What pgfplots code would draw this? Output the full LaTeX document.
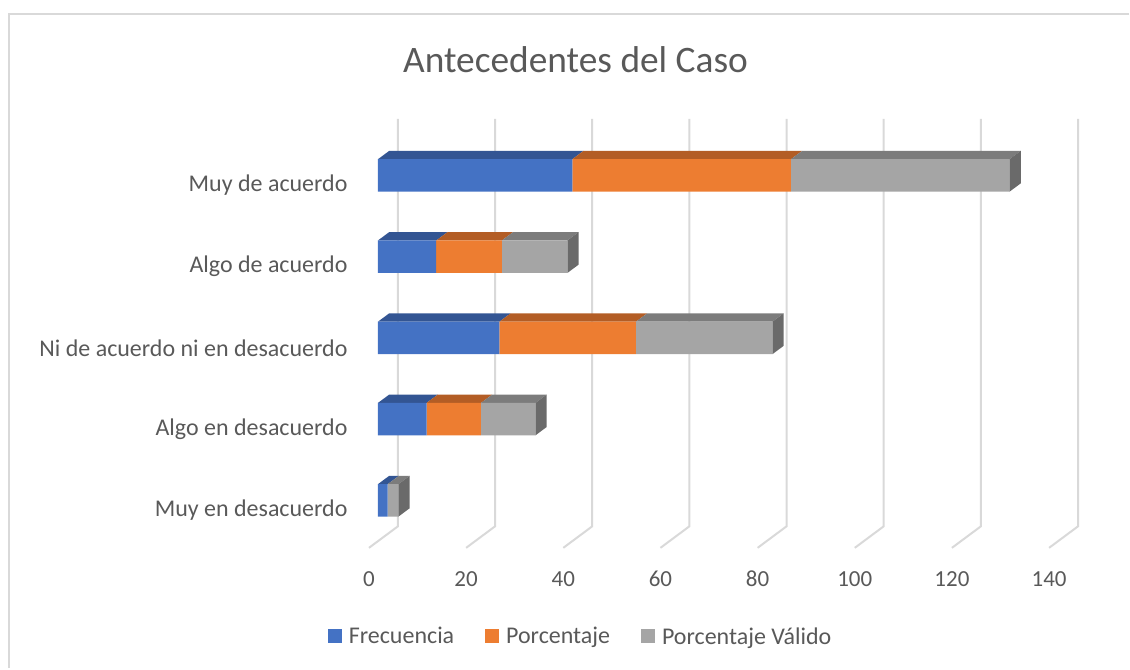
\documentclass[border=0pt]{standalone}
\usepackage{pgfplots}
\usepackage{pgfplotstable}
\usepackage{fontspec}
\setmainfont{Carlito}
\pgfplotsset{compat=1.18}

\definecolor{txt}{HTML}{595959}
\definecolor{rule}{HTML}{D9D9D9}
\definecolor{blue1}{HTML}{4472C4}
\definecolor{orange1}{HTML}{ED7D31}
\definecolor{grey1}{HTML}{A5A5A5}
\definecolor{bluetop}{HTML}{335593}
\definecolor{orangetop}{HTML}{B35D25}
\definecolor{greytop}{HTML}{7C7C7C}
\definecolor{greyside}{HTML}{6A6A6A}

% idx 0 is the bottom category
\pgfplotstableread{
idx freq pct valid
0   2    0    2.2
1   10   11.2 11.2
2   25   28.1 28.1
3   12   13.5 13.5
4   40   45   45
}\casedata

\pgfplotsset{
  frame/.style={
    scale only axis, width=709.7pt, height=429.3pt,
    xmin=-1.85, xmax=144.11, ymin=-0.584, ymax=4.696,
    clip=false,
  },
  gridline/.style={rule, line width=2pt, forget plot, no marks, sharp plot},
  face/.style={fill=#1, draw=none, forget plot, no marks, sharp plot},
  swatch/.style={
    fill=#1, draw=none,
    legend image code/.code={\fill[fill=#1,draw=none] (0pt,-7pt) rectangle (14pt,7pt); \path (19pt,0pt);},
  },
}

\begin{document}
\begin{tikzpicture}
\begin{axis}[
  frame,
  axis line style={draw=none},
  major tick length=0pt,
  xtick={0,20,...,140},
  ytick={0,1,2,3,4},
  yticklabels={Muy en desacuerdo,Algo en desacuerdo,Ni de acuerdo ni en desacuerdo,Algo de acuerdo,Muy de acuerdo},
  /pgf/number format/assume math mode=true,
  yticklabel style={font=\fontsize{24}{28}\selectfont, text=txt, xshift=-18pt, yshift=-10pt},
  xticklabel style={font=\fontsize{23}{28}\selectfont, text=txt, xshift=-9pt, yshift=-20pt, text height=15pt, text depth=0pt},
  title={Antecedentes del Caso},
  title style={at={(0.2913,1.1235)}, anchor=center, font=\fontsize{37.4}{44}\selectfont, text=txt},
]
% page frame, only top and left are drawn
\path (axis cs:-77.8,6.16) rectangle (axis cs:154.6,-2.069);
\addplot[gridline] coordinates {(154.6,5.988) (-75.96,5.988) (-75.96,-2.069)};

% floor and back wall lines
\addplot[gridline] coordinates {(-1.85,-0.584) (4.11,-0.319) (4.11,4.696)};
\addplot[gridline] coordinates {(18.15,-0.584) (24.11,-0.319) (24.11,4.696)};
\addplot[gridline] coordinates {(38.15,-0.584) (44.11,-0.319) (44.11,4.696)};
\addplot[gridline] coordinates {(58.15,-0.584) (64.11,-0.319) (64.11,4.696)};
\addplot[gridline] coordinates {(78.15,-0.584) (84.11,-0.319) (84.11,4.696)};
\addplot[gridline] coordinates {(98.15,-0.584) (104.11,-0.319) (104.11,4.696)};
\addplot[gridline] coordinates {(118.15,-0.584) (124.11,-0.319) (124.11,4.696)};
\addplot[gridline] coordinates {(138.15,-0.584) (144.11,-0.319) (144.11,4.696)};

% top faces of the bars
\addplot[face=bluetop] coordinates {(0,4.2) (40,4.2) (42.32,4.303) (2.32,4.303)};
\addplot[face=orangetop] coordinates {(40,4.2) (85,4.2) (87.32,4.303) (42.32,4.303)};
\addplot[face=greytop] coordinates {(85,4.2) (130,4.2) (132.32,4.303) (87.32,4.303)};
\addplot[face=bluetop] coordinates {(0,3.2) (12,3.2) (14.32,3.303) (2.32,3.303)};
\addplot[face=orangetop] coordinates {(12,3.2) (25.5,3.2) (27.82,3.303) (14.32,3.303)};
\addplot[face=greytop] coordinates {(25.5,3.2) (39,3.2) (41.32,3.303) (27.82,3.303)};
\addplot[face=bluetop] coordinates {(0,2.2) (25,2.2) (27.32,2.303) (2.32,2.303)};
\addplot[face=orangetop] coordinates {(25,2.2) (53.1,2.2) (55.42,2.303) (27.32,2.303)};
\addplot[face=greytop] coordinates {(53.1,2.2) (81.2,2.2) (83.52,2.303) (55.42,2.303)};
\addplot[face=bluetop] coordinates {(0,1.2) (10,1.2) (12.32,1.303) (2.32,1.303)};
\addplot[face=orangetop] coordinates {(10,1.2) (21.2,1.2) (23.52,1.303) (12.32,1.303)};
\addplot[face=greytop] coordinates {(21.2,1.2) (32.4,1.2) (34.72,1.303) (23.52,1.303)};
\addplot[face=bluetop] coordinates {(0,0.2) (2,0.2) (4.32,0.303) (2.32,0.303)};
\addplot[face=greytop] coordinates {(2,0.2) (4.2,0.2) (6.52,0.303) (4.32,0.303)};

% side faces
\addplot[face=greyside] coordinates {(130,3.8) (132.32,3.903) (132.32,4.303) (130,4.2)};
\addplot[face=greyside] coordinates {(39,2.8) (41.32,2.903) (41.32,3.303) (39,3.2)};
\addplot[face=greyside] coordinates {(81.2,1.8) (83.52,1.903) (83.52,2.303) (81.2,2.2)};
\addplot[face=greyside] coordinates {(32.4,0.8) (34.72,0.903) (34.72,1.303) (32.4,1.2)};
\addplot[face=greyside] coordinates {(4.2,-0.2) (6.52,-0.097) (6.52,0.303) (4.2,0.2)};
\end{axis}

\begin{axis}[
  frame,
  hide axis,
  xbar stacked,
  bar width=32.5pt,
  legend columns=3,
  legend style={
    at={(0.2985,-0.2066)}, anchor=center, draw=none, fill=none,
    font=\fontsize{24}{28}\selectfont, text=txt,
    /tikz/column 2/.style={column sep=29pt},
    /tikz/column 4/.style={column sep=29pt},
  },
  legend cell align=left,
]
\addplot[swatch=blue1] table[x=freq, y=idx] {\casedata};
\addplot[swatch=orange1] table[x=pct, y=idx] {\casedata};
\addplot[swatch=grey1] table[x=valid, y=idx] {\casedata};
\legend{Frecuencia,Porcentaje,Porcentaje Válido}
\end{axis}
\end{tikzpicture}
\end{document}
